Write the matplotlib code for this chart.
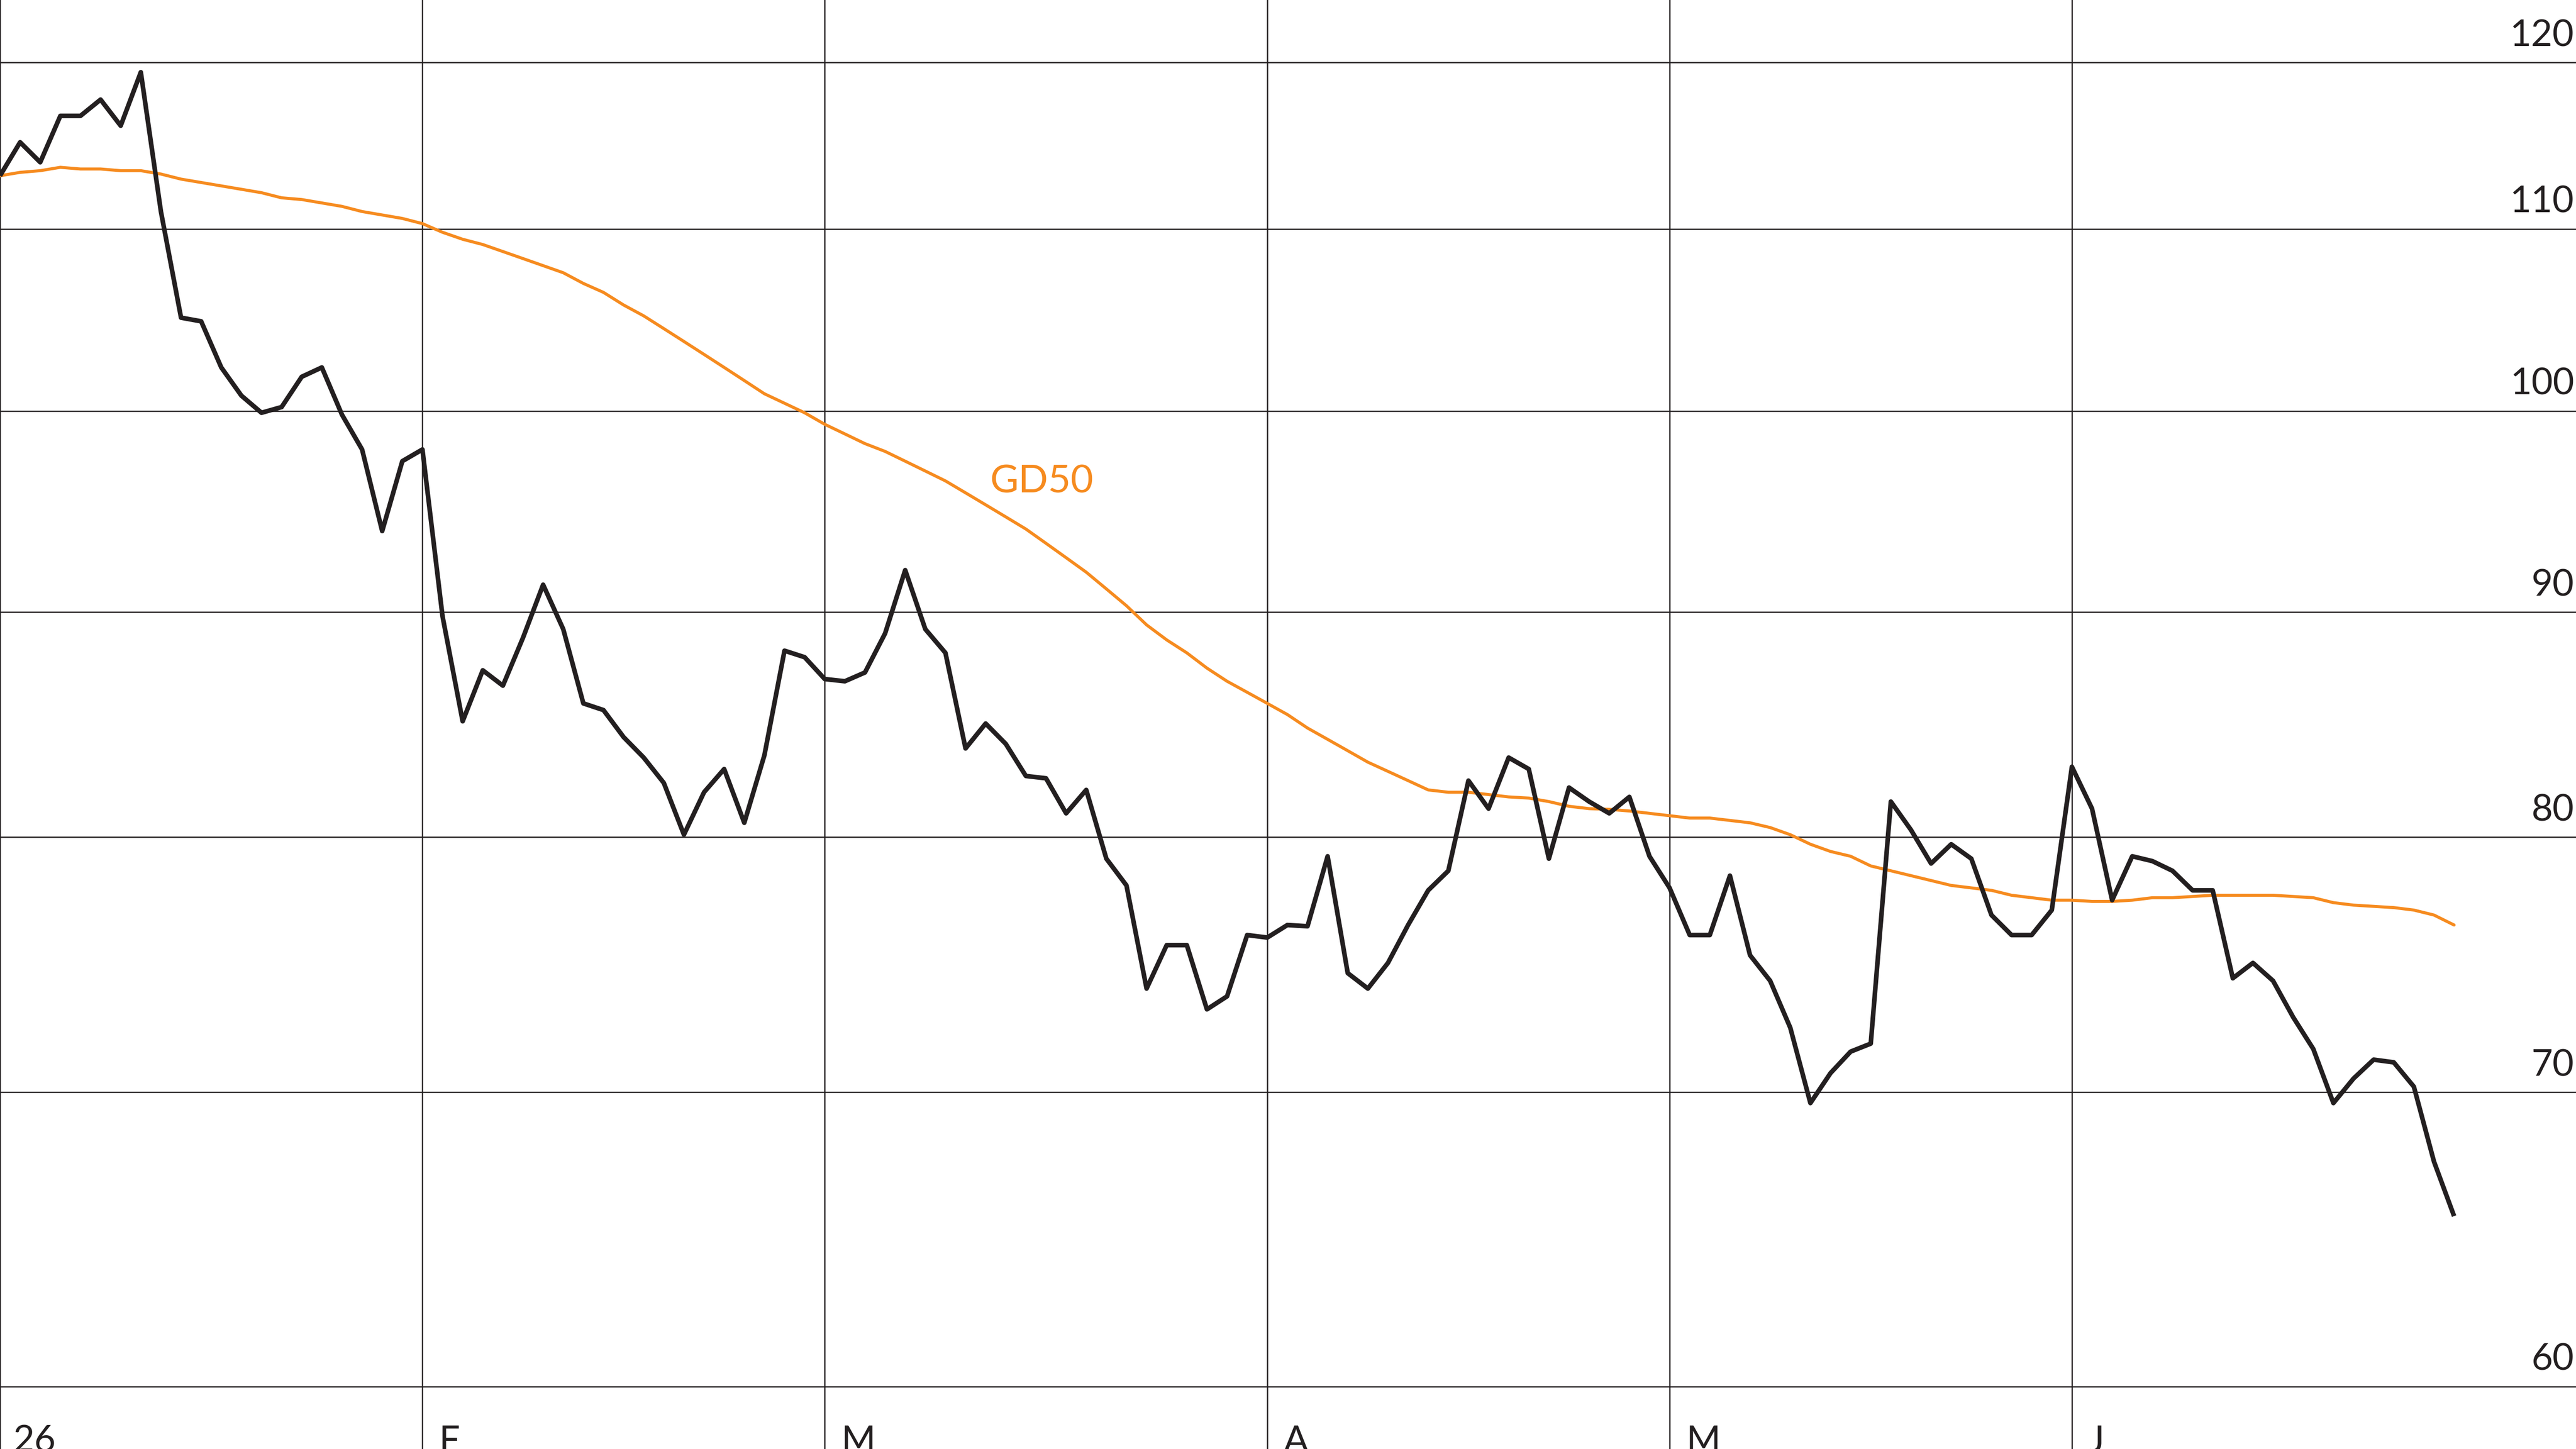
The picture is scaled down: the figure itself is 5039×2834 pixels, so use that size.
import matplotlib
matplotlib.use("Agg")
import matplotlib.pyplot as plt
import numpy as np

# ---- data (trading-day index based) ----
price = [113.1, 115.1, 113.9, 116.7, 116.7, 117.7, 116.1, 119.4, 111.0, 105.0,
         104.8, 102.3, 100.8, 99.9, 100.2, 101.8, 102.3, 99.8, 98.0, 93.9,
         97.4, 98.0, 89.8, 85.0, 87.3, 86.6, 88.8, 91.3, 89.2, 85.8,
         85.5, 84.3, 83.4, 82.3, 80.1, 81.9, 82.9, 80.6, 83.5, 88.2,
         87.9, 86.9, 86.8, 87.2, 89.0, 92.0, 89.2, 88.1, 83.8, 84.9,
         84.0, 82.6, 82.5, 81.0, 82.0, 79.1, 78.0, 73.9, 75.6, 75.6,
         73.1, 73.6, 76.0, 75.9, 76.4, 76.35, 79.2, 74.5, 73.9, 74.9,
         76.4, 77.8, 78.6, 82.4, 81.2, 83.4, 82.9, 79.1, 82.1, 81.5,
         81.0, 81.7, 79.2, 77.9, 76.0, 76.0, 78.4, 75.2, 74.2, 72.4,
         69.6, 70.7, 71.5, 71.8, 81.5, 80.3, 78.9, 79.7, 79.1, 76.8,
         76.0, 76.0, 77.0, 83.0, 81.2, 77.4, 79.2, 79.0, 78.6, 77.8,
         77.8, 74.3, 74.9, 74.2, 72.8, 71.6, 69.6, 70.5, 71.2, 71.1,
         70.2, 67.5, 65.6]

gd50 = [113.1, 113.3, 113.4, 113.6, 113.5, 113.5, 113.4, 113.4, 113.2, 112.9,
        112.7, 112.5, 112.3, 112.1, 111.8, 111.7, 111.5, 111.3, 111.0, 110.8,
        110.6, 110.3, 109.8, 109.4, 109.1, 108.7, 108.3, 107.9, 107.5, 106.9,
        106.4, 105.7, 105.1, 104.4, 103.7, 103.0, 102.3, 101.6, 100.9, 100.4,
        99.9, 99.3, 98.8, 98.3, 97.9, 97.4, 96.9, 96.4, 95.8, 95.2,
        94.6, 94.0, 93.3, 92.6, 91.9, 91.1, 90.3, 89.4, 88.7, 88.1,
        87.4, 86.8, 86.3, 85.8, 85.3, 84.7, 84.2, 83.7, 83.2, 82.8,
        82.4, 82.0, 81.9, 81.9, 81.8, 81.7, 81.65, 81.5, 81.3, 81.2,
        81.17, 81.1, 81.0, 80.9, 80.8, 80.8, 80.7, 80.6, 80.4, 80.1,
        79.7, 79.4, 79.2, 78.8, 78.6, 78.4, 78.2, 78.0, 77.9, 77.8,
        77.6, 77.5, 77.4, 77.4, 77.35, 77.35, 77.4, 77.5, 77.5, 77.55,
        77.6, 77.6, 77.6, 77.6, 77.55, 77.5, 77.3, 77.2, 77.15, 77.1,
        77.0, 76.8, 76.4]

month_starts = [0, 21, 41, 63, 83, 103]
month_labels = ["26", "F", "M", "A", "M", "J"]
y_ticks = [60, 70, 80, 90, 100, 110, 120]
ma_label = "GD50"

INK = "#231F20"
ORANGE = "#F68B1F"
FONT = ["Lato", "DejaVu Sans"]

fig = plt.figure(figsize=(50.39, 28.34), dpi=100)
ax = fig.add_axes([0, 0, 1, 1])
ax.set_yscale("log")
ax.set_xlim(0, 128.06)
ax.set_ylim(58.07, 124.0)
for s in ax.spines.values():
    s.set_visible(False)
ax.set_xticks([])
ax.set_yticks([])
ax.minorticks_off()

for v in y_ticks:
    ax.axhline(v, color=INK, lw=1.8, zorder=1)
for m in month_starts:
    ax.axvline(m, color=INK, lw=1.8, zorder=1)

x = np.arange(len(price))
ax.plot(np.arange(len(gd50)), gd50, color=ORANGE, lw=4.3, zorder=2,
        solid_joinstyle="round", solid_capstyle="round")
ax.plot(x, price, color=INK, lw=6.5, zorder=3, solid_joinstyle="round",
        solid_capstyle="butt")

for v in y_ticks:
    ax.annotate(str(v), xy=(1, v), xycoords=("axes fraction", "data"),
                xytext=(-4, 32), textcoords="offset pixels",
                ha="right", va="baseline", fontsize=52, color=INK,
                family=FONT, annotation_clip=False)

for m, lab in zip(month_starts, month_labels):
    off = 26 if m == 0 else 32
    ax.annotate(lab, xy=(m, 0), xycoords=("data", "axes fraction"),
                xytext=(off, -6), textcoords="offset pixels",
                ha="left", va="baseline", fontsize=52, color=INK,
                family=FONT, annotation_clip=False)

ax.text(49.2, 95.8, ma_label, color=ORANGE, fontsize=55, family=FONT,
        ha="left", va="baseline")

fig.savefig("out.png", dpi=100, facecolor="white")
